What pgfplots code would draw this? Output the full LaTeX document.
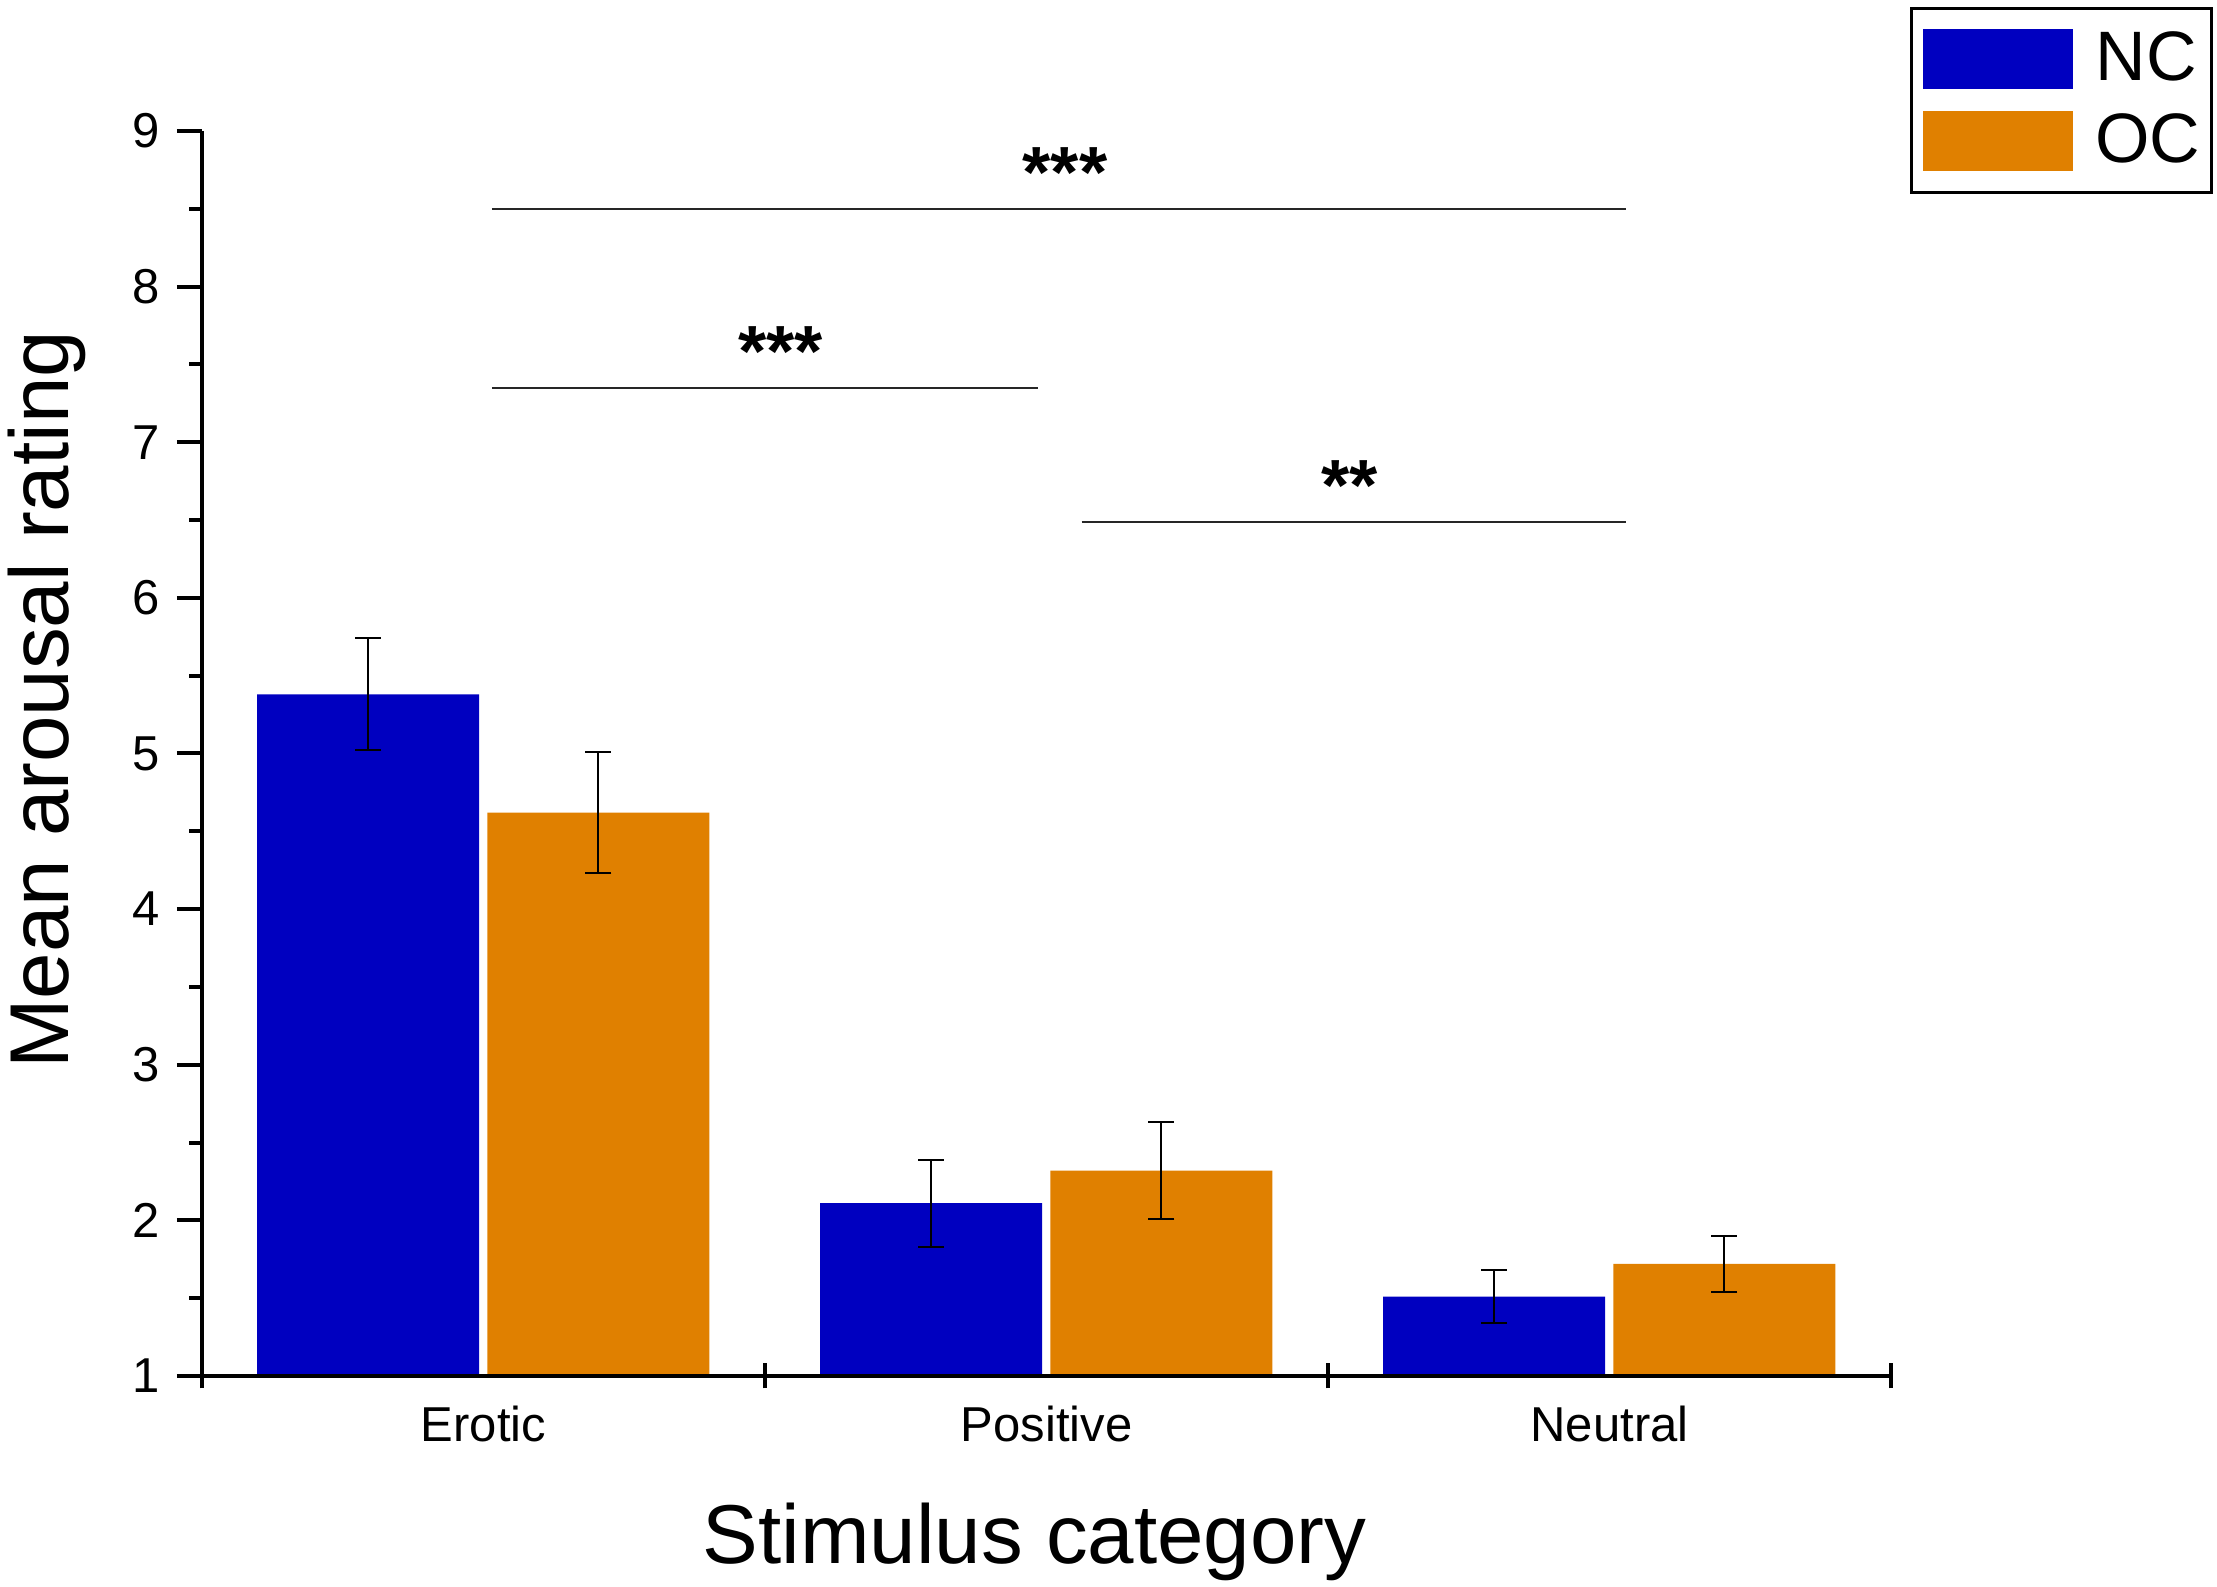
\documentclass[border=0pt]{standalone}
\usepackage{fontspec}
\setmainfont{Liberation Sans}
\usepackage{pgfplots}
\usepackage{pgfplotstable}
\pgfplotsset{compat=1.18}
\definecolor{ncblue}{RGB}{0,0,192}
\definecolor{ocorange}{RGB}{224,128,0}
% x = category position (Erotic 0, Positive 1, Neutral 2) shifted to the bar centre
\pgfplotstableread{
x y err
-0.205 5.38 0.36
0.795 2.11 0.28
1.795 1.51 0.17
}\nctable
\pgfplotstableread{
x y err
0.204 4.62 0.39
1.204 2.32 0.31
2.204 1.72 0.18
}\octable
\begin{document}
\begin{tikzpicture}
\useasboundingbox (-40.4pt,-42.2pt) rectangle (403pt,275.2pt);
\begin{axis}[
  scale only axis, width=337.8pt, height=249pt,
  xmin=-0.5, xmax=2.5, ymin=1, ymax=9,
  axis x line=bottom, axis y line=left,
  axis line style={-, line width=0.8pt},
  axis on top,
  xtick={-0.5,0.5,1.5,2.5},
  xticklabels={Erotic,Positive,Neutral},
  x tick label as interval,
  ytick={1,2,...,9},
  minor y tick num=1,
  xtick align=center,
  ytick align=outside,
  major tick length=5pt,
  minor tick length=2.5pt,
  every tick/.style={black, line width=0.8pt},
  /pgf/number format/assume math mode=true,
  xticklabel style={font=\fontsize{9.8}{11}\selectfont},
  yticklabel style={font=\fontsize{9.8}{11}\selectfont},
  xlabel={Stimulus category},
  ylabel={Mean arousal rating},
  xlabel style={font=\fontsize{16.7}{20}\selectfont, at={(axis description cs:0.493,-0.151)}, anchor=base},
  ylabel style={font=\fontsize{16.7}{20}\selectfont, at={(axis description cs:-0.0917,0.543)}, anchor=center},
  legend style={at={(1.01125,1.0996)}, anchor=north west, draw=black, line width=0.6pt,
    inner xsep=2.2pt, inner ysep=4.2pt, font=\fontsize{14}{16}\selectfont,
    row sep=4.4pt, column sep=4.6pt, nodes={inner sep=0pt}},
  legend cell align=left,
]
\addplot[ybar, bar width=0.394, bar shift=0, fill=ncblue, draw=none,
  legend image code/.code={\fill[ncblue] (0pt,-6pt) rectangle (30pt,6pt);},
  error bars/.cd, y dir=both, y explicit,
  error bar style={black, line width=0.4pt},
  error mark options={rotate=90, black, mark size=2.6pt, line width=0.4pt}]
  table[x=x, y=y, y error=err]{\nctable};
\addlegendentry{NC}
\addplot[ybar, bar width=0.394, bar shift=0, fill=ocorange, draw=none,
  legend image code/.code={\fill[ocorange] (0pt,-6pt) rectangle (30pt,6pt);},
  error bars/.cd, y dir=both, y explicit,
  error bar style={black, line width=0.4pt},
  error mark options={rotate=90, black, mark size=2.6pt, line width=0.4pt}]
  table[x=x, y=y, y error=err]{\octable};
\addlegendentry{OC}
\draw[line width=0.4pt, black!85] (axis cs:0.015,8.50) -- (axis cs:2.029,8.50);
\draw[line width=0.4pt, black!85] (axis cs:0.015,7.35) -- (axis cs:0.985,7.35);
\draw[line width=0.4pt, black!85] (axis cs:1.0625,6.49) -- (axis cs:2.029,6.49);
\node[anchor=base, font=\fontsize{14.5}{16}\selectfont\bfseries, inner sep=0pt] at (axis cs:1.033,8.57) {***};
\node[anchor=base, font=\fontsize{14.5}{16}\selectfont\bfseries, inner sep=0pt] at (axis cs:0.528,7.42) {***};
\node[anchor=base, font=\fontsize{14.5}{16}\selectfont\bfseries, inner sep=0pt] at (axis cs:1.539,6.56) {**};
\end{axis}
\end{tikzpicture}
\end{document}
